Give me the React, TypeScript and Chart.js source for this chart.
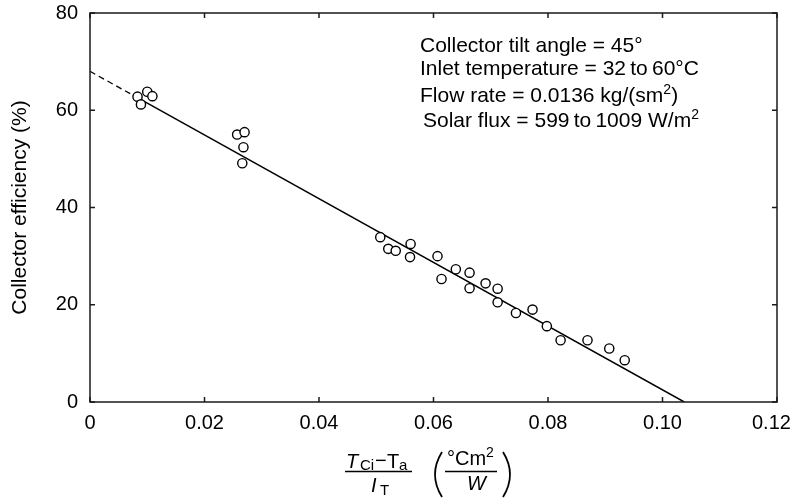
import React, { useEffect, useRef } from 'react';
import { Chart, registerables } from 'chart.js';

Chart.register(...registerables);

const FONT = "'Liberation Sans', Arial, Helvetica, sans-serif";

// Measured data points (x = (TCi - Ta)/IT, y = efficiency %)
const effX = [
  0.0083, 0.0100, 0.0109, 0.0089,
  0.0257, 0.0270, 0.0268, 0.0266,
  0.0507, 0.0521, 0.0534, 0.0560, 0.0559, 0.0607, 0.0614, 0.0639,
  0.0663, 0.0663, 0.0691, 0.0712, 0.0712, 0.0744, 0.0773,
  0.0798, 0.0822, 0.0869, 0.0907, 0.0934,
];
const effY = [
  62.8, 63.8, 62.9, 61.2,
  55.0, 55.5, 52.4, 49.1,
  33.9, 31.5, 31.1, 32.5, 29.8, 30.0, 25.3, 27.3,
  26.6, 23.4, 24.4, 23.3, 20.5, 18.3, 19.0,
  15.6, 12.7, 12.7, 11.0, 8.6,
];

// Fitted line: dashed extrapolation then solid
const fitDashX = [0, 0.0075];
const fitDashY = [68.0, 63.1];
const fitSolidX = [0.0075, 0.1038];
const fitSolidY = [63.1, 0];

const xTicks = [0, 0.02, 0.04, 0.06, 0.08, 0.1, 0.12];
// trailing spaces keep the last label inside the canvas, as in the original
const xTickLabels = ['0', '0.02', '0.04', '0.06', '0.08', '0.10', '0.12  '];
const yTicks = [0, 20, 40, 60, 80];
const yTickLabels = ['0', '20', '40', '60', '80'];

const yTitle = 'Collector efficiency (%)';
const noteLines = [
  'Collector tilt angle = 45°',
  'Inlet temperature = 32\u2009to\u200960°C',
  'Flow rate = 0.0136 kg/(sm²)',
  'Solar flux = 599\u2009to\u20091009 W/m²',
];

type Run = { t: string; size?: number; dy?: number; italic?: boolean };

function drawRuns(ctx: CanvasRenderingContext2D, x: number, y: number, runs: Run[], base: number) {
  let cx = x;
  for (const r of runs) {
    ctx.font = `${r.italic ? 'italic ' : ''}${r.size || base}px ${FONT}`;
    ctx.fillText(r.t, cx, y + (r.dy || 0));
    cx += ctx.measureText(r.t).width;
  }
  return cx;
}

function toRuns(s: string, base: number): Run[] {
  const parts = s.split('²');
  const runs: Run[] = [];
  parts.forEach((p, i) => {
    if (p) runs.push({ t: p });
    if (i < parts.length - 1) runs.push({ t: '2', size: Math.round(base * 0.68), dy: -8 });
  });
  return runs;
}

const decorPlugin = {
  id: 'decor',
  afterDraw(chart: any) {
    const { ctx, chartArea: a, scales } = chart;
    const xs = scales.x;
    const ys = scales.y;
    ctx.save();
    ctx.strokeStyle = '#1a1a1a';
    ctx.lineWidth = 1.5;
    ctx.strokeRect(a.left, a.top, a.right - a.left, a.bottom - a.top);
    const tl = 5;
    ctx.beginPath();
    xTicks.forEach((v) => {
      const px = xs.getPixelForValue(v);
      ctx.moveTo(px, a.bottom);
      ctx.lineTo(px, a.bottom - tl);
      ctx.moveTo(px, a.top);
      ctx.lineTo(px, a.top + tl);
    });
    yTicks.forEach((v) => {
      const py = ys.getPixelForValue(v);
      ctx.moveTo(a.left, py);
      ctx.lineTo(a.left + tl, py);
      ctx.moveTo(a.right, py);
      ctx.lineTo(a.right - tl, py);
    });
    ctx.stroke();

    // annotation block
    ctx.fillStyle = '#000';
    ctx.textBaseline = 'alphabetic';
    ctx.textAlign = 'left';
    const noteX = [420, 420, 420, 423];
    const noteY = [52, 75, 102, 127];
    noteLines.forEach((s, i) => drawRuns(ctx, noteX[i], noteY[i], toRuns(s, 21), 21));

    // x-axis title as a fraction
    drawRuns(ctx, 346, 468, [{ t: 'T', italic: true }], 20);
    drawRuns(ctx, 360, 470, [{ t: 'Ci', size: 15 }], 20);
    drawRuns(ctx, 375, 467, [{ t: '−' }], 20);
    drawRuns(ctx, 387, 468, [{ t: 'T' }], 20);
    drawRuns(ctx, 399, 470, [{ t: 'a', size: 15 }], 20);
    drawRuns(ctx, 371, 492, [{ t: 'I', italic: true }], 20);
    drawRuns(ctx, 380, 495, [{ t: 'T', size: 15 }], 20);
    drawRuns(ctx, 447, 465, [{ t: '°Cm' }, { t: '2', size: 14, dy: -8 }], 20);
    drawRuns(ctx, 467, 490, [{ t: 'W', italic: true }], 20);
    ctx.lineWidth = 1.3;
    ctx.strokeStyle = '#000';
    ctx.beginPath();
    ctx.moveTo(345, 471.5);
    ctx.lineTo(412, 471.5);
    ctx.moveTo(445, 471.5);
    ctx.lineTo(497, 471.5);
    ctx.stroke();
    ctx.lineWidth = 1.8;
    ctx.beginPath();
    ctx.moveTo(442, 452);
    ctx.quadraticCurveTo(428, 474.5, 442, 497);
    ctx.moveTo(503, 452);
    ctx.quadraticCurveTo(517, 474.5, 503, 497);
    ctx.stroke();
    ctx.restore();
  },
};

export default function App() {
  const ref = useRef<HTMLCanvasElement | null>(null);
  useEffect(() => {
    if (!ref.current) return;
    Chart.defaults.font.family = FONT;
    Chart.defaults.color = '#000';
    const chart = new Chart(ref.current, {
      type: 'scatter',
      data: {
        datasets: [
          {
            data: effX.map((x, i) => ({ x, y: effY[i] })),
            pointStyle: 'circle',
            pointRadius: 4.6,
            pointBorderWidth: 1.4,
            pointBorderColor: '#000',
            pointBackgroundColor: '#fff',
            order: 0,
          } as any,
          {
            data: fitSolidX.map((x, i) => ({ x, y: fitSolidY[i] })),
            showLine: true,
            borderColor: '#000',
            borderWidth: 1.5,
            pointRadius: 0,
            order: 1,
          },
          {
            data: fitDashX.map((x, i) => ({ x, y: fitDashY[i] })),
            showLine: true,
            borderColor: '#000',
            borderWidth: 1.3,
            borderDash: [6, 4],
            pointRadius: 0,
            order: 2,
          },
        ],
      },
      options: {
        animation: false,
        responsive: false,
        events: [],
        layout: { padding: { top: 13, right: 17, left: 0, bottom: 0 } },
        plugins: { legend: { display: false }, tooltip: { enabled: false } },
        scales: {
          x: {
            type: 'linear',
            min: 0,
            max: 0.12,
            afterBuildTicks: (s: any) => {
              s.ticks = xTicks.map((v) => ({ value: v }));
            },
            afterFit: (s: any) => {
              s.height = 96;
              s.paddingLeft = 0;
              s.paddingRight = 0;
            },
            grid: { display: false, drawTicks: false },
            border: { display: false },
            ticks: {
              padding: 9,
              color: '#000',
              font: { size: 20 },
              maxRotation: 0,
              autoSkip: false,
              callback: (_v: any, i: number) => xTickLabels[i],
            },
          },
          y: {
            type: 'linear',
            min: 0,
            max: 80,
            afterBuildTicks: (s: any) => {
              s.ticks = yTicks.map((v) => ({ value: v }));
            },
            afterFit: (s: any) => {
              s.width = 90;
              s.paddingTop = 0;
              s.paddingBottom = 0;
            },
            grid: { display: false, drawTicks: false },
            border: { display: false },
            ticks: {
              padding: 12,
              color: '#000',
              font: { size: 20 },
              autoSkip: false,
              callback: (_v: any, i: number) => yTickLabels[i],
            },
            title: {
              display: true,
              text: yTitle,
              color: '#000',
              font: { size: 21 },
              padding: { top: 8, bottom: 0 },
            },
          },
        },
      } as any,
      plugins: [decorPlugin],
    });
    return () => chart.destroy();
  }, []);
  return (
    <div style={{ position: 'absolute', left: 0, top: 0, width: 794, height: 498, background: '#fff' }}>
      <canvas ref={ref} width={794} height={498} />
    </div>
  );
}
